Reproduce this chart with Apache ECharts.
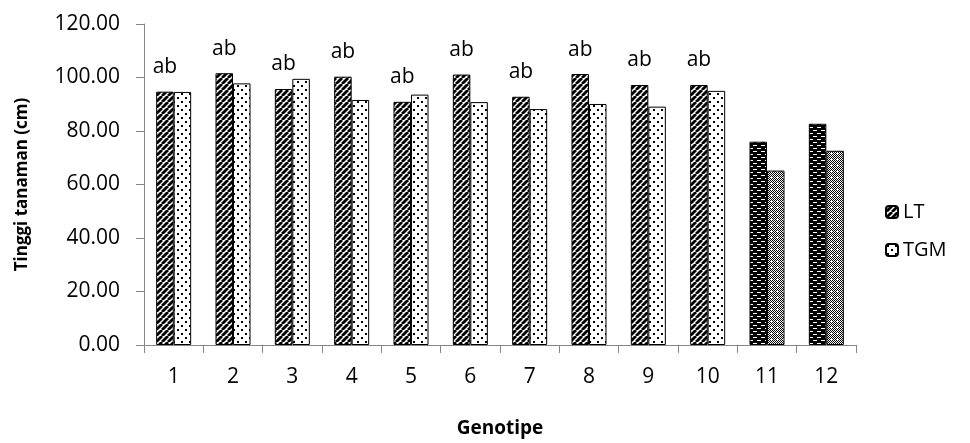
<!DOCTYPE html>
<html><head><meta charset="utf-8">
<script src="https://cdn.jsdelivr.net/npm/echarts@6/dist/echarts.min.js"></script>
<style>html,body{margin:0;padding:0;background:#fff}#c{width:970px;height:443px}</style>
</head><body><div id="c"></div>
<script>
const categories = ['1','2','3','4','5','6','7','8','9','10','11','12'];
const ltValues = [94.7, 101.6, 95.7, 100.3, 90.9, 101.1, 92.8, 101.3, 97.2, 97.2, 76.0, 82.7];
const tgmValues = [94.6, 97.8, 99.5, 91.6, 93.6, 90.8, 88.2, 90.1, 89.1, 95.0, 65.2, 72.6];
const ltLabels = ['ab','ab','ab','ab','ab','ab','ab','ab','ab','ab','',''];
const yTicks = [0, 20, 40, 60, 80, 100, 120];

function tile(w, h, draw) {
  const c = document.createElement('canvas');
  c.width = w; c.height = h;
  const g = c.getContext('2d');
  draw(g, w, h);
  return c;
}
// diagonal stripes (LT)
const stripeCanvas = tile(6, 6, (g, w, h) => {
  g.fillStyle = '#fff'; g.fillRect(0, 0, w, h);
  g.strokeStyle = '#000'; g.lineWidth = 2.8;
  for (let k = -1; k <= 1; k++) {
    g.beginPath(); g.moveTo(k * w, h); g.lineTo(k * w + w, 0); g.stroke();
  }
});
// dots (TGM)
const dotCanvas = tile(8, 8, (g, w, h) => {
  g.fillStyle = '#fff'; g.fillRect(0, 0, w, h);
  g.fillStyle = '#000';
  g.fillRect(1, 1, 2, 2);
  g.fillRect(5, 5, 2, 2);
});
// black with white dashes (LT 11,12)
const dashCanvas = tile(8, 6, (g, w, h) => {
  g.fillStyle = '#000'; g.fillRect(0, 0, w, h);
  g.fillStyle = '#fff';
  g.fillRect(1, 1, 4, 1);
  g.fillRect(5, 4, 3, 1);
  g.fillRect(0, 4, 1, 1);
});
// checker with white crosses (TGM 11,12)
const checkCanvas = tile(6, 6, (g, w, h) => {
  g.fillStyle = '#fff'; g.fillRect(0, 0, w, h);
  g.fillStyle = '#000';
  for (let y = 0; y < h; y++) for (let x = 0; x < w; x++) {
    if ((x + y) % 2 === 0) g.fillRect(x, y, 1, 1);
  }
  g.fillStyle = '#fff';
  g.fillRect(2, 3, 3, 1); g.fillRect(3, 2, 1, 3);
});
const pat = c => ({ image: c, repeat: 'repeat' });

const FONT = 'Open Sans';
const chart = echarts.init(document.getElementById('c'));
chart.setOption({
  animation: false,
  textStyle: { fontFamily: FONT, color: '#000' },
  grid: { left: 144, right: 114, top: 24, bottom: 98 },
  legend: {
    orient: 'vertical', left: 880, top: 197, itemGap: 18,
    itemWidth: 12, itemHeight: 12,
    textStyle: { fontFamily: FONT, fontSize: 20, color: '#000' },
    data: ['LT', 'TGM']
  },
  xAxis: {
    type: 'category', data: categories,
    name: 'Genotipe', nameLocation: 'middle', nameGap: 74,
    nameTextStyle: { fontFamily: FONT, fontWeight: 'bold', fontSize: 19, color: '#000' },
    axisLine: { lineStyle: { color: '#868686', width: 1 } },
    axisTick: { show: true, length: 8, lineStyle: { color: '#868686' } },
    axisLabel: { fontSize: 21, color: '#000', margin: 22 }
  },
  yAxis: {
    type: 'value', min: yTicks[0], max: yTicks[yTicks.length - 1], interval: 20,
    name: 'Tinggi tanaman (cm)', nameLocation: 'middle', nameGap: 113, nameRotate: 90,
    nameTextStyle: { fontFamily: FONT, fontWeight: 'bold', fontSize: 17, color: '#000' },
    axisLine: { show: true, lineStyle: { color: '#868686', width: 1 } },
    axisTick: { show: true, length: 8, lineStyle: { color: '#868686' } },
    splitLine: { show: false },
    axisLabel: { fontSize: 21, color: '#000', margin: 24, formatter: v => v.toFixed(2) }
  },
  series: [
    {
      name: 'LT', type: 'bar', barGap: '0%', barCategoryGap: '41%',
      itemStyle: { color: pat(stripeCanvas), borderColor: '#000', borderWidth: 1 },
      label: { show: true, position: 'top', distance: 14, fontSize: 21, color: '#000',
        formatter: p => ltLabels[p.dataIndex] },
      data: ltValues.map((v, i) => i >= 10
        ? { value: v, itemStyle: { color: pat(dashCanvas) } } : v)
    },
    {
      name: 'TGM', type: 'bar',
      itemStyle: { color: pat(dotCanvas), borderColor: '#000', borderWidth: 1 },
      data: tgmValues.map((v, i) => i >= 10
        ? { value: v, itemStyle: { color: pat(checkCanvas) } } : v)
    }
  ]
});
</script></body></html>
